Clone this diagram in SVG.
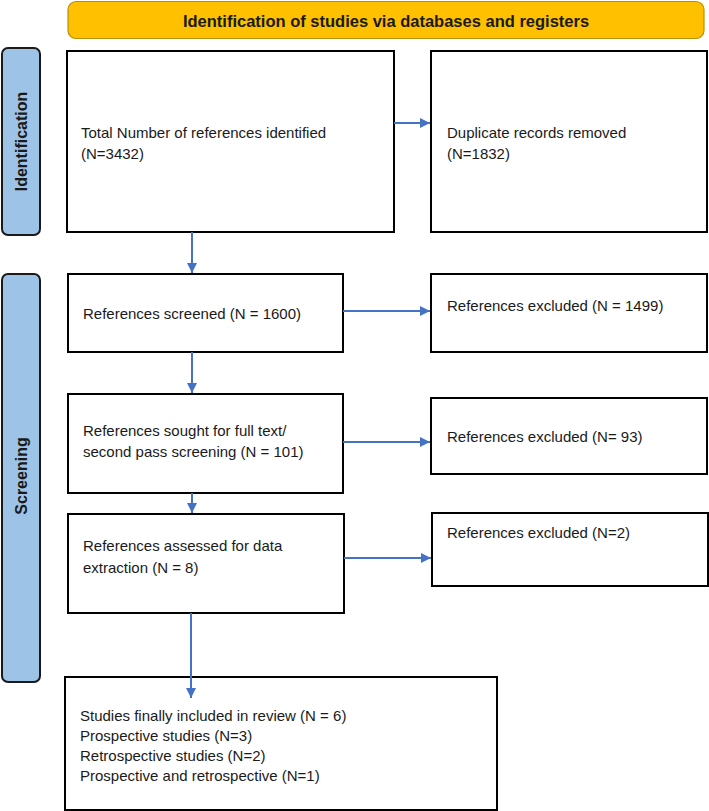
<svg xmlns="http://www.w3.org/2000/svg" width="709" height="811" viewBox="0 0 709 811">
<defs>
<style>
.box{fill:#fff;stroke:#000;stroke-width:2}
.lane{fill:#9DC3E6;stroke:#1a1a1a;stroke-width:2}
.hdr{fill:#FFC000;stroke:#B8900A;stroke-width:1.2}
.t{font-family:"Liberation Sans",Arial,sans-serif;font-size:15px;fill:#1a1a1a}
.tb{font-family:"Liberation Sans",Arial,sans-serif;font-size:16.5px;font-weight:bold;fill:#1a1a1a}
.lt{font-family:"Liberation Sans",Arial,sans-serif;font-size:16px;font-weight:bold;fill:#1a1a1a}
.c{stroke:#4472C4;stroke-width:2;fill:none;marker-end:url(#ah)}
</style>
<marker id="ah" viewBox="0 0 10 10" refX="10" refY="5" markerWidth="10" markerHeight="10" markerUnits="userSpaceOnUse" orient="auto">
<path d="M0,0 L10,5 L0,10 z" fill="#4472C4"/>
</marker>
</defs>
<rect width="709" height="811" fill="#fff"/>
<g id="header">
<rect class="hdr" x="68" y="1.5" width="636" height="37" rx="8"/>
<text class="tb" x="386" y="26.5" text-anchor="middle">Identification of studies via databases and registers</text>
</g>
<g id="lane-identification">
<rect class="lane" x="2" y="48" width="38" height="187" rx="6"/>
<text class="lt" transform="translate(27,141.5) rotate(-90)" text-anchor="middle">Identification</text>
</g>
<g id="lane-screening">
<rect class="lane" x="2" y="274" width="38" height="408" rx="6"/>
<text class="lt" transform="translate(27,476) rotate(-90)" text-anchor="middle">Screening</text>
</g>
<g id="n-total">
<rect class="box" x="67" y="51" width="327" height="181"/>
<text class="t" x="81" y="138">Total Number of references identified</text>
<text class="t" x="81" y="159">(N=3432)</text>
</g>
<g id="n-duplicates">
<rect class="box" x="431" y="51" width="276" height="181"/>
<text class="t" x="447" y="138">Duplicate records removed</text>
<text class="t" x="447" y="159">(N=1832)</text>
</g>
<g id="n-screened">
<rect class="box" x="68" y="274" width="275" height="78"/>
<text class="t" x="83" y="319">References screened (N = 1600)</text>
</g>
<g id="n-excl1">
<rect class="box" x="431" y="274" width="276" height="78"/>
<text class="t" x="447" y="311">References excluded (N = 1499)</text>
</g>
<g id="n-sought">
<rect class="box" x="68" y="394" width="275" height="99"/>
<text class="t" x="83" y="436">References sought for full text/</text>
<text class="t" x="83" y="457">second pass screening (N = 101)</text>
</g>
<g id="n-excl2">
<rect class="box" x="431" y="398" width="276" height="76"/>
<text class="t" x="447" y="442">References excluded (N= 93)</text>
</g>
<g id="n-assessed">
<rect class="box" x="68" y="514" width="276" height="99"/>
<text class="t" x="83" y="551">References assessed for data</text>
<text class="t" x="83" y="573">extraction (N = 8)</text>
</g>
<g id="n-excl3">
<rect class="box" x="432" y="513" width="276" height="73"/>
<text class="t" x="447" y="538">References excluded (N=2)</text>
</g>
<g id="n-included">
<rect class="box" x="65" y="677" width="432" height="133"/>
<text class="t" x="80" y="721">Studies finally included in review (N = 6)</text>
<text class="t" x="80" y="741">Prospective studies (N=3)</text>
<text class="t" x="80" y="761">Retrospective studies (N=2)</text>
<text class="t" x="80" y="781">Prospective and retrospective (N=1)</text>
</g>
<g id="connectors">
<line class="c" x1="394" y1="123" x2="430" y2="123"/>
<line class="c" x1="192" y1="232" x2="192" y2="273"/>
<line class="c" x1="343" y1="311" x2="430" y2="311"/>
<line class="c" x1="192" y1="352" x2="192" y2="393"/>
<line class="c" x1="343" y1="442" x2="430" y2="442"/>
<line class="c" x1="192" y1="493" x2="192" y2="513"/>
<line class="c" x1="344" y1="558" x2="431" y2="558"/>
<line class="c" x1="191" y1="613" x2="191" y2="698"/>
</g>
</svg>
